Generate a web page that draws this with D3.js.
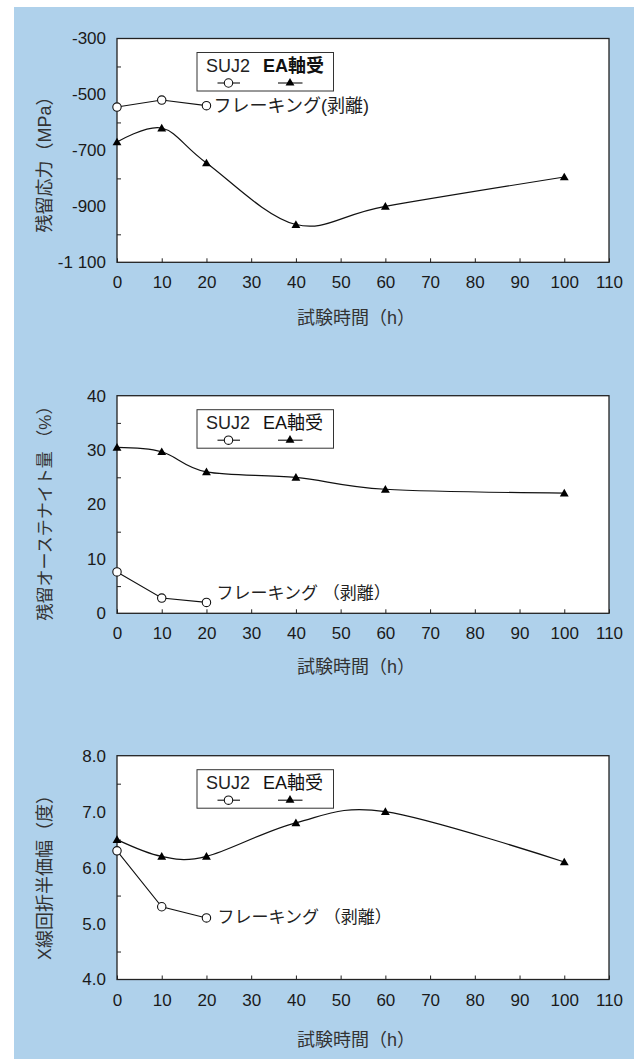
<!DOCTYPE html>
<html>
<head>
<meta charset="utf-8">
<script src="https://cdn.jsdelivr.net/npm/d3@7"></script>
<style>
  body { margin: 0; background: #fff; }
  svg { display: block; }
  text { font-family: "Liberation Sans", "Noto Sans CJK JP", sans-serif; }
</style>
</head>
<body>
<div id="chart"></div>
<script>
// test hours (h)
const HOURS_EA = [0, 10, 20, 40, 60, 100];
const HOURS_SUJ2 = [0, 10, 20];
const X_TICKS = [0, 10, 20, 30, 40, 50, 60, 70, 80, 90, 100, 110];

// residual stress (MPa)
const STRESS_EA = [-670, -620, -745, -965, -900, -795];
const STRESS_SUJ2 = [-545, -520, -540];
const STRESS_TICKS = [-1100, -900, -700, -500, -300];
const STRESS_MINOR = [-1000, -800, -600, -400];

// retained austenite (%)
const AUSTENITE_EA = [30.5, 29.7, 26.0, 25.0, 22.8, 22.1];
const AUSTENITE_SUJ2 = [7.6, 2.8, 2.0];
const AUSTENITE_TICKS = [0, 10, 20, 30, 40];
const AUSTENITE_MINOR = [5, 15, 25, 35];

// X-ray half value width (deg)
const WIDTH_EA = [6.5, 6.2, 6.2, 6.8, 7.0, 6.1];
const WIDTH_SUJ2 = [6.3, 5.3, 5.1];
const WIDTH_TICKS = [4, 5, 6, 7, 8];
const WIDTH_MINOR = [4.5, 5.5, 6.5, 7.5];

const SERIES_NAMES = ["SUJ2", "EA軸受"];
const X_TITLE = "試験時間（h）";

const W = 642, H = 1059;
const PLOT_LEFT = 117, PLOT_RIGHT = 609;
const BG = "#afd1eb";

const spaceFmt = d3.formatLocale({ decimal: ".", thousands: " ", grouping: [3], currency: ["", ""], minus: "-" }).format(",");

const panels = [
  { ea: STRESS_EA, suj: STRESS_SUJ2, domain: [-1100, -300], ticks: STRESS_TICKS, minor: STRESS_MINOR,
    fmt: spaceFmt, yTitle: "残留応力（MPa）", yTitleSize: 18, yTitleY: 160,
    top: 38.5, bottom: 262.3, xTitleY: 318, note: "フレーキング(剥離)", noteSize: 18, noteDx: 7, noteDy: 0, boldEA: true },
  { ea: AUSTENITE_EA, suj: AUSTENITE_SUJ2, domain: [0, 40], ticks: AUSTENITE_TICKS, minor: AUSTENITE_MINOR,
    fmt: d3.format("d"), yTitle: "残留オーステナイト量 （%）", yTitleSize: 17, yTitleY: 509,
    top: 395.7, bottom: 613.3, xTitleY: 667, note: "フレーキング （剥離）", noteSize: 17, noteDx: 10, noteDy: -9, boldEA: false },
  { ea: WIDTH_EA, suj: WIDTH_SUJ2, domain: [4, 8], ticks: WIDTH_TICKS, minor: WIDTH_MINOR,
    fmt: d3.format(".1f"), yTitle: "X線回折半価幅（度）", yTitleSize: 18, yTitleY: 873,
    top: 755.7, bottom: 979.5, xTitleY: 1040, note: "フレーキング （剥離）", noteSize: 17, noteDx: 11, noteDy: 0, boldEA: false }
];

const svg = d3.select("#chart").append("svg")
  .attr("width", W)
  .attr("height", H)
  .attr("viewBox", `0 0 ${W} ${H}`);

svg.append("rect")
  .attr("x", 14).attr("y", 7)
  .attr("width", 620).attr("height", H - 7)
  .attr("fill", BG);

const x = d3.scaleLinear().domain([0, 110]).range([PLOT_LEFT, PLOT_RIGHT]);
const triangle = d3.symbol().type(d3.symbolTriangle).size(34);

panels.forEach(p => {
  const y = d3.scaleLinear().domain(p.domain).range([p.bottom, p.top]);
  const g = svg.append("g");

  // plot area
  g.append("rect")
    .attr("x", PLOT_LEFT).attr("y", p.top)
    .attr("width", PLOT_RIGHT - PLOT_LEFT).attr("height", p.bottom - p.top)
    .attr("fill", "#fff");

  // x axis, ticks pointing inward
  const xAxis = g.append("g")
    .attr("transform", `translate(0,${p.bottom})`)
    .call(d3.axisBottom(x).tickValues(X_TICKS).tickSizeInner(-4).tickSizeOuter(0).tickPadding(14));
  xAxis.select(".domain").remove();
  xAxis.selectAll("line").attr("stroke", "#222");
  xAxis.selectAll("text").attr("font-size", 17).attr("fill", "#1a1a1a");

  // y axis labels (no major ticks), minor ticks inward
  const yAxis = g.append("g")
    .attr("transform", `translate(${PLOT_LEFT},0)`)
    .call(d3.axisLeft(y).tickValues(p.ticks).tickFormat(p.fmt).tickSize(0).tickPadding(11));
  yAxis.select(".domain").remove();
  yAxis.selectAll("text").attr("font-size", 17).attr("fill", "#1a1a1a");

  const yMinor = g.append("g")
    .attr("transform", `translate(${PLOT_LEFT},0)`)
    .call(d3.axisLeft(y).tickValues(p.minor).tickFormat("").tickSizeInner(-4).tickSizeOuter(0));
  yMinor.select(".domain").remove();
  yMinor.selectAll("line").attr("stroke", "#222");

  // frame
  g.append("rect")
    .attr("x", PLOT_LEFT).attr("y", p.top)
    .attr("width", PLOT_RIGHT - PLOT_LEFT).attr("height", p.bottom - p.top)
    .attr("fill", "none").attr("stroke", "#222").attr("stroke-width", 1.3);

  // titles
  g.append("text")
    .attr("x", 356).attr("y", p.xTitleY)
    .attr("text-anchor", "middle").attr("dominant-baseline", "central")
    .attr("font-size", 18).attr("fill", "#333")
    .text(X_TITLE);

  g.append("text")
    .attr("transform", `translate(45,${p.yTitleY}) rotate(-90)`)
    .attr("text-anchor", "middle").attr("dominant-baseline", "central")
    .attr("font-size", p.yTitleSize).attr("fill", "#333")
    .text(p.yTitle);

  // EA bearing: smoothed line with filled triangles
  const eaData = HOURS_EA.map((h, i) => [h, p.ea[i]]);
  g.append("path")
    .datum(eaData)
    .attr("fill", "none").attr("stroke", "#111").attr("stroke-width", 1.2)
    .attr("d", d3.line().x(d => x(d[0])).y(d => y(d[1])).curve(d3.curveCatmullRom.alpha(0)));
  g.selectAll(".tri")
    .data(eaData)
    .join("path")
    .attr("class", "tri")
    .attr("transform", d => `translate(${x(d[0])},${y(d[1]) + 0.8})`)
    .attr("d", triangle)
    .attr("fill", "#000");

  // SUJ2: straight segments with open circles
  const sujData = HOURS_SUJ2.map((h, i) => [h, p.suj[i]]);
  g.append("path")
    .datum(sujData)
    .attr("fill", "none").attr("stroke", "#111").attr("stroke-width", 1.1)
    .attr("d", d3.line().x(d => x(d[0])).y(d => y(d[1])));
  g.selectAll(".circ")
    .data(sujData)
    .join("circle")
    .attr("class", "circ")
    .attr("cx", d => x(d[0])).attr("cy", d => y(d[1]))
    .attr("r", 4.2)
    .attr("fill", "#fff").attr("stroke", "#111").attr("stroke-width", 1.1);

  // flaking note next to last SUJ2 point
  const last = sujData[sujData.length - 1];
  g.append("text")
    .attr("x", x(last[0]) + p.noteDx).attr("y", y(last[1]) + p.noteDy)
    .attr("dominant-baseline", "central")
    .attr("font-size", p.noteSize).attr("fill", "#222")
    .text(p.note);

  // legend
  const lx = PLOT_LEFT + 80, ly = p.top + 14;
  const lg = g.append("g").attr("transform", `translate(${lx},${ly})`);
  lg.append("rect")
    .attr("width", 136.5).attr("height", 38.5)
    .attr("fill", "#fff").attr("stroke", "#333").attr("stroke-width", 1);
  lg.append("text")
    .attr("x", 9).attr("y", 19.5)
    .attr("font-size", 18).attr("fill", "#222")
    .text(SERIES_NAMES[0]);
  lg.append("text")
    .attr("x", 66).attr("y", 19.5)
    .attr("font-size", 18).attr("fill", "#111")
    .attr("font-weight", p.boldEA ? "bold" : "normal")
    .text(SERIES_NAMES[1]);

  const sy = 30.5;
  lg.append("line").attr("x1", 20.5).attr("x2", 43).attr("y1", sy).attr("y2", sy)
    .attr("stroke", "#111").attr("stroke-width", 1.1);
  lg.append("circle").attr("cx", 31.5).attr("cy", sy).attr("r", 4.2)
    .attr("fill", "#fff").attr("stroke", "#111").attr("stroke-width", 1.1);
  lg.append("line").attr("x1", 81).attr("x2", 105.5).attr("y1", sy).attr("y2", sy)
    .attr("stroke", "#111").attr("stroke-width", 1.1);
  lg.append("path").attr("transform", `translate(93,${sy})`).attr("d", triangle).attr("fill", "#000");
});
</script>
</body>
</html>
